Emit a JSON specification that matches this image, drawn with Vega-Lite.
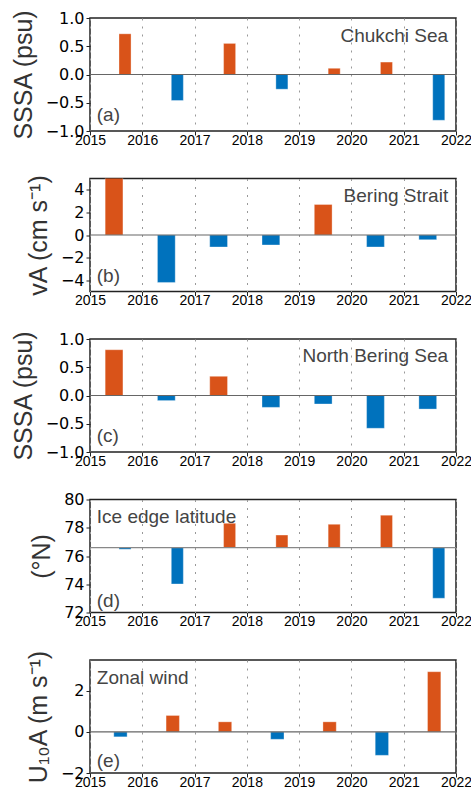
{
  "$schema": "https://vega.github.io/schema/vega-lite/v6.json",
  "background": "white",
  "padding": {"left": 10, "top": 8, "right": 5, "bottom": 5},
  "spacing": 47.5,
  "bounds": "flush",
  "datasets": {
    "a": [
      {"t0": 2015.555, "t1": 2015.785, "v": 0.72},
      {"t0": 2016.555, "t1": 2016.785, "v": -0.46},
      {"t0": 2017.555, "t1": 2017.785, "v": 0.55},
      {"t0": 2018.555, "t1": 2018.785, "v": -0.26},
      {"t0": 2019.555, "t1": 2019.785, "v": 0.11},
      {"t0": 2020.555, "t1": 2020.785, "v": 0.22},
      {"t0": 2021.555, "t1": 2021.785, "v": -0.81}
    ],
    "b": [
      {"t0": 2015.29, "t1": 2015.63, "v": 5.3},
      {"t0": 2016.29, "t1": 2016.63, "v": -4.2},
      {"t0": 2017.29, "t1": 2017.63, "v": -1.06},
      {"t0": 2018.29, "t1": 2018.63, "v": -0.88},
      {"t0": 2019.29, "t1": 2019.63, "v": 2.7},
      {"t0": 2020.29, "t1": 2020.63, "v": -1.06},
      {"t0": 2021.29, "t1": 2021.63, "v": -0.41}
    ],
    "c": [
      {"t0": 2015.29, "t1": 2015.63, "v": 0.81},
      {"t0": 2016.29, "t1": 2016.63, "v": -0.09},
      {"t0": 2017.29, "t1": 2017.63, "v": 0.34},
      {"t0": 2018.29, "t1": 2018.63, "v": -0.21},
      {"t0": 2019.29, "t1": 2019.63, "v": -0.15},
      {"t0": 2020.29, "t1": 2020.63, "v": -0.58},
      {"t0": 2021.29, "t1": 2021.63, "v": -0.24}
    ],
    "d": [
      {"t0": 2015.555, "t1": 2015.785, "v": 76.47},
      {"t0": 2016.555, "t1": 2016.785, "v": 74.02},
      {"t0": 2017.555, "t1": 2017.785, "v": 78.31},
      {"t0": 2018.555, "t1": 2018.785, "v": 77.48},
      {"t0": 2019.555, "t1": 2019.785, "v": 78.24},
      {"t0": 2020.555, "t1": 2020.785, "v": 78.89},
      {"t0": 2021.555, "t1": 2021.785, "v": 73.01}
    ],
    "e": [
      {"t0": 2015.455, "t1": 2015.71, "v": -0.24},
      {"t0": 2016.455, "t1": 2016.71, "v": 0.8},
      {"t0": 2017.455, "t1": 2017.71, "v": 0.49},
      {"t0": 2018.455, "t1": 2018.71, "v": -0.36},
      {"t0": 2019.455, "t1": 2019.71, "v": 0.49},
      {"t0": 2020.455, "t1": 2020.71, "v": -1.14},
      {"t0": 2021.455, "t1": 2021.71, "v": 2.93}
    ]
  },
  "config": {
    "view": {"stroke": "#222", "strokeWidth": 1.5},
    "axis": {
      "domain": false,
      "grid": false,
      "labelOverlap": false,
      "tickColor": "#222",
      "tickSize": 4,
      "labelFont": "DejaVu Sans",
      "labelFontSize": 16,
      "labelColor": "#000",
      "titleFont": "Liberation Sans",
      "titleFontSize": 25,
      "titleFontWeight": "normal",
      "titleColor": "#333",
      "titlePadding": 9
    },
    "axisX": {
      "grid": true,
      "gridDash": [2, 6],
      "gridColor": "#999",
      "labelFont": "Liberation Sans",
      "labelFontSize": 14,
      "labelPadding": -2,
      "labelFlush": false
    },
    "text": {"font": "Liberation Sans", "fontSize": 19, "color": "#444"},
    "bar": {"stroke": "#ffffff", "strokeOpacity": 0.4, "strokeWidth": 0.8}
  },
  "vconcat": [
    {
      "width": 366, "height": 113,
      "encoding": {
        "x": {"field": "t0", "type": "quantitative", "scale": {"domain": [2015, 2022]}, "axis": {"values": [2015, 2016, 2017, 2018, 2019, 2020, 2021, 2022], "format": "d", "title": null}},
        "y": {"field": "v", "type": "quantitative", "scale": {"domain": [-1, 1]}, "axis": {"values": [-1, -0.5, 0, 0.5, 1], "format": ".1f", "title": "SSSA (psu)"}}
      },
      "layer": [
        {
          "data": {"name": "a"},
          "mark": {"type": "bar", "clip": true},
          "encoding": {
            "x2": {"field": "t1"},
            "y2": {"datum": 0},
            "color": {"condition": {"test": "datum.v > 0", "value": "#D95319"}, "value": "#0072BD"}
          }
        },
        {"data": {"values": [{"t0": 2015, "t1": 2022, "v": 0}]}, "mark": {"type": "rule", "color": "#666", "strokeWidth": 1.2}, "encoding": {"x2": {"field": "t1"}}},
        {
          "data": {"values": [{"t0": 2021.85, "v": 0.58, "t": "Chukchi Sea"}]},
          "mark": {"type": "text", "align": "right", "baseline": "alphabetic"},
          "encoding": {"text": {"field": "t"}}
        },
        {
          "data": {"values": [{"t0": 2015.13, "v": -0.83, "t": "(a)"}]},
          "mark": {"type": "text", "align": "left", "baseline": "alphabetic"},
          "encoding": {"text": {"field": "t"}}
        }
      ]
    },
    {
      "width": 366, "height": 113,
      "encoding": {
        "x": {"field": "t0", "type": "quantitative", "scale": {"domain": [2015, 2022]}, "axis": {"values": [2015, 2016, 2017, 2018, 2019, 2020, 2021, 2022], "format": "d", "title": null}},
        "y": {"field": "v", "type": "quantitative", "scale": {"domain": [-5, 5]}, "axis": {"values": [-4, -2, 0, 2, 4], "format": "d", "title": "vA (cm s⁻¹)"}}
      },
      "layer": [
        {
          "data": {"name": "b"},
          "mark": {"type": "bar", "clip": true},
          "encoding": {
            "x2": {"field": "t1"},
            "y2": {"datum": 0},
            "color": {"condition": {"test": "datum.v > 0", "value": "#D95319"}, "value": "#0072BD"}
          }
        },
        {"data": {"values": [{"t0": 2015, "t1": 2022, "v": 0}]}, "mark": {"type": "rule", "color": "#666", "strokeWidth": 1.2}, "encoding": {"x2": {"field": "t1"}}},
        {
          "data": {"values": [{"t0": 2021.85, "v": 2.94, "t": "Bering Strait"}]},
          "mark": {"type": "text", "align": "right", "baseline": "alphabetic"},
          "encoding": {"text": {"field": "t"}}
        },
        {
          "data": {"values": [{"t0": 2015.13, "v": -4.12, "t": "(b)"}]},
          "mark": {"type": "text", "align": "left", "baseline": "alphabetic"},
          "encoding": {"text": {"field": "t"}}
        }
      ]
    },
    {
      "width": 366, "height": 113,
      "encoding": {
        "x": {"field": "t0", "type": "quantitative", "scale": {"domain": [2015, 2022]}, "axis": {"values": [2015, 2016, 2017, 2018, 2019, 2020, 2021, 2022], "format": "d", "title": null}},
        "y": {"field": "v", "type": "quantitative", "scale": {"domain": [-1, 1]}, "axis": {"values": [-1, -0.5, 0, 0.5, 1], "format": ".1f", "title": "SSSA (psu)"}}
      },
      "layer": [
        {
          "data": {"name": "c"},
          "mark": {"type": "bar", "clip": true},
          "encoding": {
            "x2": {"field": "t1"},
            "y2": {"datum": 0},
            "color": {"condition": {"test": "datum.v > 0", "value": "#D95319"}, "value": "#0072BD"}
          }
        },
        {"data": {"values": [{"t0": 2015, "t1": 2022, "v": 0}]}, "mark": {"type": "rule", "color": "#666", "strokeWidth": 1.2}, "encoding": {"x2": {"field": "t1"}}},
        {
          "data": {"values": [{"t0": 2021.85, "v": 0.59, "t": "North Bering Sea"}]},
          "mark": {"type": "text", "align": "right", "baseline": "alphabetic"},
          "encoding": {"text": {"field": "t"}}
        },
        {
          "data": {"values": [{"t0": 2015.13, "v": -0.82, "t": "(c)"}]},
          "mark": {"type": "text", "align": "left", "baseline": "alphabetic"},
          "encoding": {"text": {"field": "t"}}
        }
      ]
    },
    {
      "width": 366, "height": 113,
      "encoding": {
        "x": {"field": "t0", "type": "quantitative", "scale": {"domain": [2015, 2022]}, "axis": {"values": [2015, 2016, 2017, 2018, 2019, 2020, 2021, 2022], "format": "d", "title": null}},
        "y": {"field": "v", "type": "quantitative", "scale": {"domain": [72, 80], "zero": false}, "axis": {"values": [72, 74, 76, 78, 80], "format": "d", "title": "(°N)"}}
      },
      "layer": [
        {
          "data": {"name": "d"},
          "mark": {"type": "bar", "clip": true},
          "encoding": {
            "x2": {"field": "t1"},
            "y2": {"datum": 76.6},
            "color": {"condition": {"test": "datum.v > 76.6", "value": "#D95319"}, "value": "#0072BD"}
          }
        },
        {"data": {"values": [{"t0": 2015, "t1": 2022, "v": 76.6}]}, "mark": {"type": "rule", "color": "#888", "strokeWidth": 1.2}, "encoding": {"x2": {"field": "t1"}}},
        {
          "data": {"values": [{"t0": 2015.13, "v": 78.31, "t": "Ice edge latitude"}]},
          "mark": {"type": "text", "align": "left", "baseline": "alphabetic"},
          "encoding": {"text": {"field": "t"}}
        },
        {
          "data": {"values": [{"t0": 2015.13, "v": 72.42, "t": "(d)"}]},
          "mark": {"type": "text", "align": "left", "baseline": "alphabetic"},
          "encoding": {"text": {"field": "t"}}
        }
      ]
    },
    {
      "width": 366, "height": 113,
      "encoding": {
        "x": {"field": "t0", "type": "quantitative", "scale": {"domain": [2015, 2022]}, "axis": {"values": [2015, 2016, 2017, 2018, 2019, 2020, 2021, 2022], "format": "d", "title": null}},
        "y": {"field": "v", "type": "quantitative", "scale": {"domain": [-2, 3.5]}, "axis": {"values": [-2, 0, 2], "format": "d", "title": "U₁₀A (m s⁻¹)"}}
      },
      "layer": [
        {
          "data": {"name": "e"},
          "mark": {"type": "bar", "clip": true},
          "encoding": {
            "x2": {"field": "t1"},
            "y2": {"datum": 0},
            "color": {"condition": {"test": "datum.v > 0", "value": "#D95319"}, "value": "#0072BD"}
          }
        },
        {"data": {"values": [{"t0": 2015, "t1": 2022, "v": 0}]}, "mark": {"type": "rule", "color": "#666", "strokeWidth": 1.2}, "encoding": {"x2": {"field": "t1"}}},
        {
          "data": {"values": [{"t0": 2015.13, "v": 2.33, "t": "Zonal wind"}]},
          "mark": {"type": "text", "align": "left", "baseline": "alphabetic"},
          "encoding": {"text": {"field": "t"}}
        },
        {
          "data": {"values": [{"t0": 2015.13, "v": -1.72, "t": "(e)"}]},
          "mark": {"type": "text", "align": "left", "baseline": "alphabetic"},
          "encoding": {"text": {"field": "t"}}
        }
      ]
    }
  ]
}
